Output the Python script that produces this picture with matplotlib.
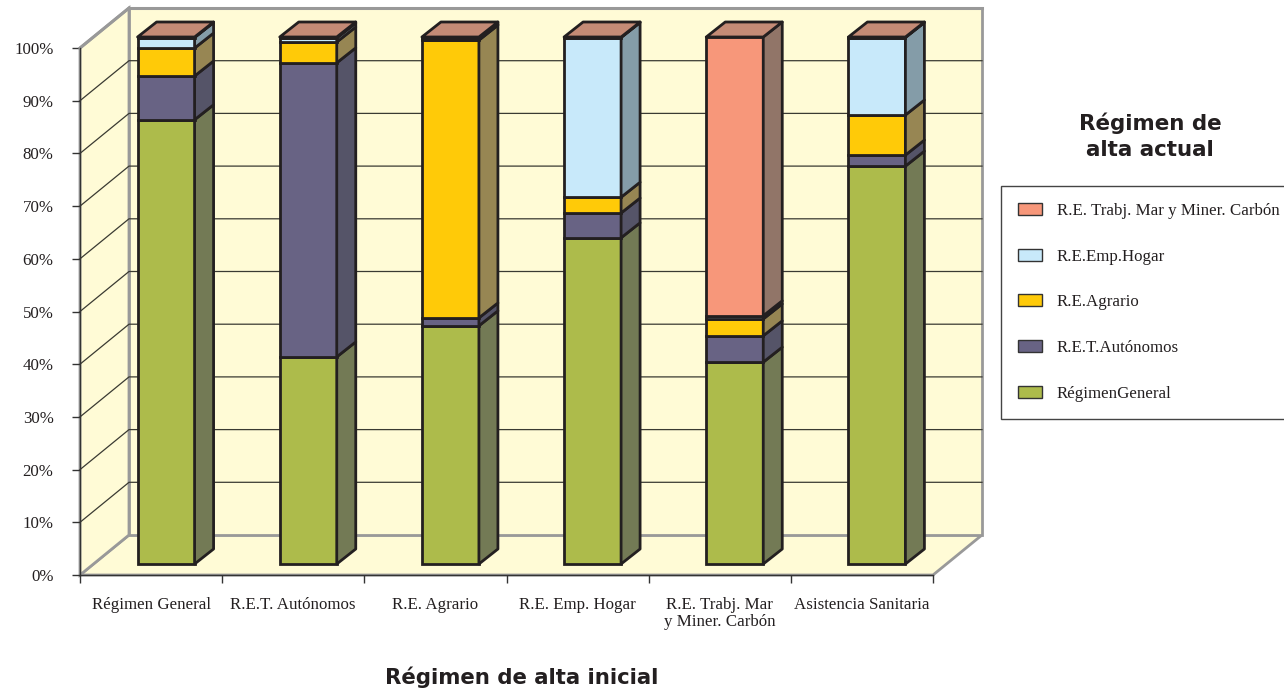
import numpy as np
import matplotlib
matplotlib.use('Agg')
import matplotlib.pyplot as plt
from matplotlib.patches import Polygon, Patch

# categorias y valores (%)
categories = ['Régimen General', 'R.E.T. Autónomos', 'R.E. Agrario', 'R.E. Emp. Hogar',
              'R.E. Trabj. Mar\ny Miner. Carbón', 'Asistencia Sanitaria']
regimen_general = [84.3, 39.3, 45.2, 61.9, 38.3, 75.5]
ret_autonomos = [8.3, 55.8, 1.5, 4.7, 5.0, 2.1]
re_agrario = [5.3, 3.95, 52.7, 3.0, 3.2, 7.6]
re_emp_hogar = [2.0, 0.75, 0.2, 30.3, 0.6, 14.7]
re_mar_carbon = [0.1, 0.2, 0.4, 0.1, 52.9, 0.1]
series_names = ['RégimenGeneral', 'R.E.T.Autónomos', 'R.E.Agrario', 'R.E.Emp.Hogar',
                'R.E. Trabj. Mar y Miner. Carbón']
yticks = list(range(0, 101, 10))

front_colors = ['#ADBB4B', '#686384', '#FFCA08', '#C8E9FA', '#F7977A']
side_colors = ['#737A55', '#555468', '#978653', '#849CA8', '#917568']
top_color = '#C48B76'
wall = '#FFFBD6'
edge = '#231F20'
grey = '#999999'

W, H = 1284, 693
fig = plt.figure(figsize=(W / 100, H / 100), dpi=100)
plt.rcParams['font.family'] = ['Liberation Serif', 'DejaVu Sans']

# ejes en el plano frontal
x0, x1, y0, y1 = 80, 933, 575, 48
ax = fig.add_axes([x0 / W, 1 - y0 / H, (x1 - x0) / W, (y0 - y1) / H])
ax.set_xlim(0, 6)
ax.set_ylim(0, 100)
ax.patch.set_visible(False)
for s in ['top', 'right']:
    ax.spines[s].set_visible(False)
for s in ['left', 'bottom']:
    ax.spines[s].set_color('#333333')
    ax.spines[s].set_linewidth(1)
    ax.spines[s].set_zorder(5)

ux = (x1 - x0) / 6.0    # px por categoria
uy = (y0 - y1) / 100.0  # px por 1%
dx, dy = 49 / ux, 40 / uy            # profundidad de las paredes
bar_sx, bar_sy = 15 / ux, 11 / uy    # desplazamiento de las barras
bar_w = 57 / ux
bar_dx, bar_dy = 19 / ux, 15 / uy    # profundidad de las barras

# paredes
ax.add_patch(Polygon([(0, 0), (dx, dy), (6 + dx, dy), (6, 0)], fc=wall, ec=grey, lw=2, clip_on=False, zorder=1))
ax.add_patch(Polygon([(0, 0), (0, 100), (dx, 100 + dy), (dx, dy)], fc=wall, ec=grey, lw=2, clip_on=False, zorder=1))
ax.add_patch(Polygon([(dx, dy), (dx, 100 + dy), (6 + dx, 100 + dy), (6 + dx, dy)], fc=wall, ec=grey, lw=2, clip_on=False, zorder=1))
for t in yticks[1:-1]:
    ax.plot([0, dx, 6 + dx], [t, t + dy, t + dy], color='#3A3A32', lw=0.9, clip_on=False, zorder=2)
ax.plot([dx, 6 + dx], [100 + dy, 100 + dy], color=grey, lw=2.2, clip_on=False, zorder=2)
ax.plot([0, dx], [100, 100 + dy], color=grey, lw=2.2, clip_on=False, zorder=2)

# barras apiladas
stacks = [regimen_general, ret_autonomos, re_agrario, re_emp_hogar, re_mar_carbon]
lw = 2.0
for i in range(len(categories)):
    xl = i + 0.5 + bar_sx - bar_w / 2
    xr = xl + bar_w
    bottom = bar_sy
    for k, vals in enumerate(stacks):
        v = vals[i]
        ax.bar(xl, v, bottom=bottom, width=bar_w, align='edge', color=front_colors[k], edgecolor=edge,
               linewidth=lw, clip_on=False, zorder=4)
        ax.add_patch(Polygon([(xr, bottom), (xr + bar_dx, bottom + bar_dy), (xr + bar_dx, bottom + v + bar_dy),
                              (xr, bottom + v)], fc=side_colors[k], ec=edge, lw=lw, joinstyle='round',
                             clip_on=False, zorder=4))
        bottom += v
    ax.add_patch(Polygon([(xl, bottom), (xl + bar_dx, bottom + bar_dy), (xr + bar_dx, bottom + bar_dy), (xr, bottom)],
                         fc=top_color, ec=edge, lw=lw, joinstyle='round', clip_on=False, zorder=4))

# ticks
ax.set_yticks(yticks)
ax.set_yticklabels(['%d%%' % t for t in yticks], fontsize=12.2, color='#231F20')
ax.tick_params(axis='y', length=5.5, width=1, color='#333333', pad=13.5)
ax.set_xticks(range(7))
ax.set_xticklabels([])
ax.tick_params(axis='x', which='major', length=6, width=1, color='#333333')
ax.set_xticks(np.arange(6) + 0.5, minor=True)
ax.set_xticklabels(categories, minor=True, fontsize=12.2, color='#231F20', linespacing=1.05)
ax.tick_params(axis='x', which='minor', length=0, pad=16)

# titulos
fig.text(522 / W, 1 - 677 / H, 'Régimen de alta inicial', family='DejaVu Sans', weight='bold', fontsize=15.3,
         ha='center', va='center', color='#231F20')
fig.text(1150 / W, 1 - 136 / H, 'Régimen de\nalta actual', family='DejaVu Sans', weight='bold', fontsize=15.4,
         ha='center', va='center', color='#231F20', linespacing=1.35)

# leyenda
handles = [Patch(fc=c, ec='#333333', lw=1) for c in front_colors[::-1]]
leg = fig.legend(handles, series_names[::-1], loc='upper left', bbox_to_anchor=(1001 / W, 1 - 186 / H),
                 bbox_transform=fig.transFigure, borderaxespad=0, fontsize=12.2, labelspacing=1.75,
                 handlelength=1.41, handleheight=0.7, handletextpad=0.88, borderpad=1.0, fancybox=False,
                 edgecolor='#444444', framealpha=1, labelcolor='#231F20')
leg.get_frame().set_linewidth(1)

fig.savefig('out.png', dpi=100)
